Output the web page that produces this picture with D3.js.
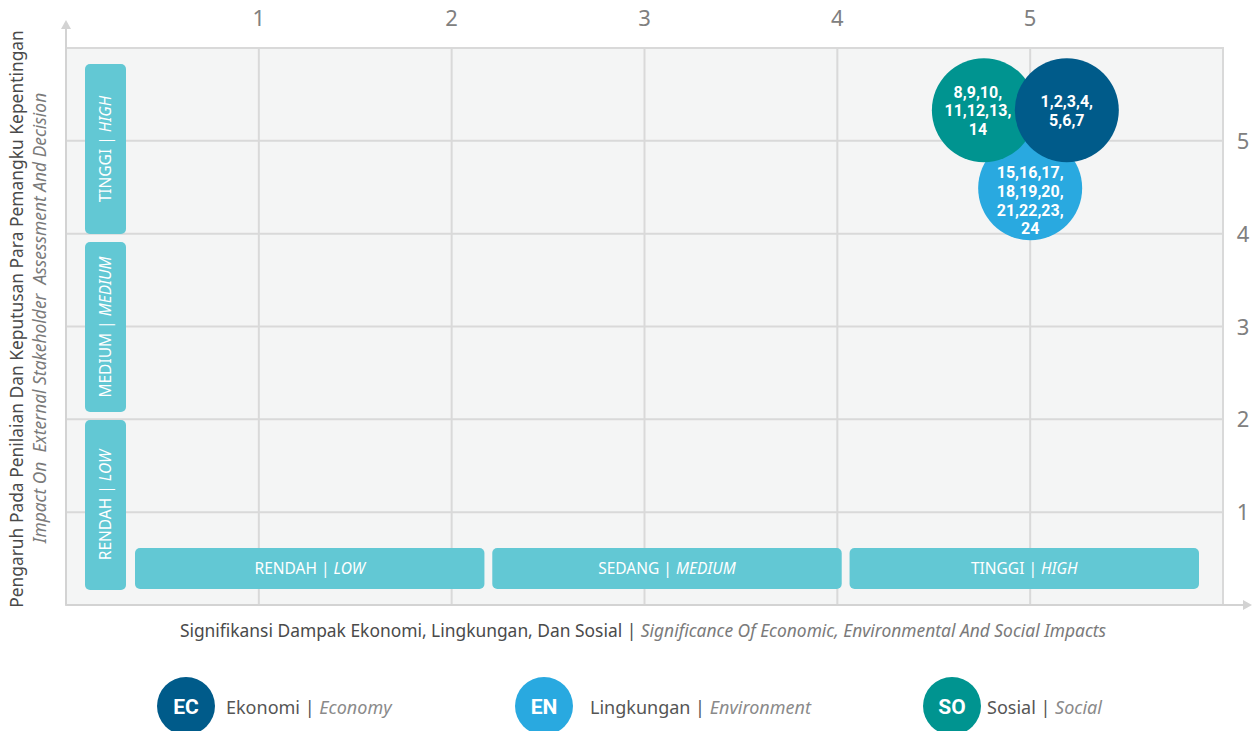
<!DOCTYPE html>
<html>
<head>
<meta charset="utf-8">
<script src="https://cdn.jsdelivr.net/npm/d3@7"></script>
<style>
  html, body { margin: 0; padding: 0; background: #fff; }
  svg { display: block; font-family: "Noto Sans", "Open Sans", sans-serif; }
</style>
</head>
<body>
<svg id="chart" width="1259" height="731"></svg>
<script>
"use strict";

// ── data ──────────────────────────────────────
const xTicks = [1, 2, 3, 4, 5];
const yTicks = [1, 2, 3, 4, 5];

const xLevels   = ["RENDAH", "SEDANG", "TINGGI"];
const xLevelsEn = ["LOW", "MEDIUM", "HIGH"];
const yLevels   = ["RENDAH", "MEDIUM", "TINGGI"];
const yLevelsEn = ["LOW", "MEDIUM", "HIGH"];

const groupCodes  = ["EC", "EN", "SO"];
const groupNames  = ["Ekonomi", "Lingkungan", "Sosial"];
const groupNamesEn = ["Economy", "Environment", "Social"];
const groupColors = ["#005b8a", "#29a9e0", "#009490"];

// bubble positions and topic numbers
const bubbleX = [5.19, 5.0, 4.76];
const bubbleY = [5.33, 4.49, 5.33];
const bubbleLines = [
  ["1,2,3,4,", "5,6,7"],
  ["15,16,17,", "18,19,20,", "21,22,23,", "24"],
  ["8,9,10,", "11,12,13,", "14"]
];
const drawOrder = [1, 2, 0]; // EN under SO under EC

const xTitle   = "Signifikansi Dampak Ekonomi, Lingkungan, Dan Sosial | ";
const xTitleEn = "Significance Of Economic, Environmental And Social Impacts";
const yTitle   = "Pengaruh Pada Penilaian Dan Keputusan Para Pemangku Kepentingan";
const yTitleEn = "Impact On  External Stakeholder  Assessment And Decision";

// ── layout ────────────────────────────────────
const plot = { left: 66, right: 1223, top: 48, bottom: 605 };
const GRID = "#d9d9d9";
const BAND = "#62c8d4";
const labelShiftX = [0, 0, -6];
const labelShiftY = [0, 12, 0]; // EN label pushed down, its top is covered
const legendCircleX = [186, 544, 952];
const legendTextX = [226, 590, 987];

const svg = d3.select("#chart");

const x = d3.scaleLinear().domain([0, 6]).range([plot.left, plot.right]);
const y = d3.scaleLinear().domain([0, 6]).range([plot.bottom, plot.top]);

// panel
svg.append("rect")
  .attr("x", plot.left).attr("y", plot.top)
  .attr("width", plot.right - plot.left).attr("height", plot.bottom - plot.top)
  .attr("fill", "#f4f5f5")
  .attr("stroke", GRID).attr("stroke-width", 2);

// grid
svg.append("g").selectAll("line").data(xTicks).join("line")
  .attr("x1", d => x(d)).attr("x2", d => x(d))
  .attr("y1", plot.top).attr("y2", plot.bottom)
  .attr("stroke", GRID).attr("stroke-width", 2);
svg.append("g").selectAll("line").data(yTicks).join("line")
  .attr("x1", plot.left).attr("x2", plot.right)
  .attr("y1", d => y(d)).attr("y2", d => y(d))
  .attr("stroke", GRID).attr("stroke-width", 2);

// axis lines with arrows
const AX = "#d3d3d3";
svg.append("line").attr("x1", plot.left).attr("x2", plot.left)
  .attr("y1", plot.bottom).attr("y2", 26).attr("stroke", AX).attr("stroke-width", 2);
svg.append("path").attr("d", `M${plot.left - 5},29 L${plot.left},20 L${plot.left + 5},29 Z`).attr("fill", AX);
svg.append("line").attr("x1", plot.left).attr("x2", 1246)
  .attr("y1", plot.bottom).attr("y2", plot.bottom).attr("stroke", AX).attr("stroke-width", 2);
svg.append("path").attr("d", `M1243,${plot.bottom - 5} L1252,${plot.bottom} L1243,${plot.bottom + 5} Z`).attr("fill", AX);

// tick labels
svg.append("g").selectAll("text").data(xTicks).join("text")
  .attr("x", d => x(d)).attr("y", 26)
  .attr("text-anchor", "middle")
  .attr("font-size", 22).attr("fill", "#808080")
  .text(d => d);
svg.append("g").selectAll("text").data(yTicks).join("text")
  .attr("x", 1243).attr("y", d => y(d) + 8)
  .attr("text-anchor", "middle")
  .attr("font-size", 22).attr("fill", "#808080")
  .text(d => d);

// category bands
const bx = d3.scaleBand().domain(xLevels).range([135, 1199]).paddingInner(0.022);
const by = d3.scaleBand().domain(yLevels.slice().reverse()).range([64, 590]).paddingInner(0.045);

const hb = svg.append("g").selectAll("g").data(xLevels).join("g");
hb.append("rect")
  .attr("x", d => bx(d)).attr("y", 548)
  .attr("width", bx.bandwidth()).attr("height", 41)
  .attr("rx", 5).attr("fill", BAND);
const ht = hb.append("text")
  .attr("x", d => bx(d) + bx.bandwidth() / 2).attr("y", 574)
  .attr("text-anchor", "middle").attr("font-size", 15.5).attr("fill", "#fff");
ht.append("tspan").text(d => d + " | ");
ht.append("tspan").attr("font-style", "italic").text((d, i) => xLevelsEn[i]);

const vb = svg.append("g").selectAll("g").data(yLevels).join("g");
vb.append("rect")
  .attr("x", 85).attr("y", d => by(d))
  .attr("width", 41).attr("height", by.bandwidth())
  .attr("rx", 5).attr("fill", BAND);
const vt = vb.append("text")
  .attr("transform", d => `translate(111,${by(d) + by.bandwidth() / 2}) rotate(-90)`)
  .attr("text-anchor", "middle").attr("font-size", 15.5).attr("fill", "#fff");
vt.append("tspan").text(d => d + " | ");
vt.append("tspan").attr("font-style", "italic").text((d, i) => yLevelsEn[i]);

// bubbles
const R = 52;
const bubbles = svg.append("g").selectAll("g").data(drawOrder).join("g")
  .attr("transform", i => `translate(${x(bubbleX[i])},${y(bubbleY[i])})`);
bubbles.append("circle").attr("r", R).attr("fill", i => groupColors[i]);
bubbles.each(function (i) {
  const lines = bubbleLines[i];
  const lh = 18.7;
  const t = d3.select(this).append("text")
    .attr("text-anchor", "middle")
    .attr("font-family", "Roboto, sans-serif")
    .attr("font-weight", "bold").attr("font-size", 16).attr("fill", "#fff");
  lines.forEach((s, k) => {
    t.append("tspan").attr("x", labelShiftX[i])
      .attr("y", (k - (lines.length - 1) / 2) * lh + 6 + labelShiftY[i])
      .text(s);
  });
});

// axis titles
const xt = svg.append("text")
  .attr("x", 643).attr("y", 637)
  .attr("text-anchor", "middle").attr("font-size", 17.4);
xt.append("tspan").attr("fill", "#4a4a4a").text(xTitle);
xt.append("tspan").attr("fill", "#7a7a7a").attr("font-style", "italic").text(xTitleEn);

svg.append("text")
  .attr("transform", "translate(23,319) rotate(-90)")
  .attr("text-anchor", "middle").attr("font-size", 17.4).attr("fill", "#4a4a4a")
  .text(yTitle);
svg.append("text")
  .attr("transform", "translate(46,318) rotate(-90)")
  .attr("text-anchor", "middle").attr("font-size", 17.4).attr("fill", "#7a7a7a")
  .attr("font-style", "italic")
  .style("white-space", "pre")
  .text(yTitleEn);

// legend
const lg = svg.append("g").selectAll("g").data(groupCodes).join("g");
lg.append("circle")
  .attr("cx", (d, i) => legendCircleX[i]).attr("cy", 706)
  .attr("r", 29).attr("fill", (d, i) => groupColors[i]);
lg.append("text")
  .attr("x", (d, i) => legendCircleX[i]).attr("y", 713.5)
  .attr("text-anchor", "middle")
  .attr("font-family", "Roboto, sans-serif")
  .attr("font-weight", "bold").attr("font-size", 21).attr("fill", "#fff")
  .text(d => d);
const lt = lg.append("text")
  .attr("x", (d, i) => legendTextX[i]).attr("y", 714).attr("font-size", 18);
lt.append("tspan").attr("fill", "#555").text((d, i) => groupNames[i] + " | ");
lt.append("tspan").attr("fill", "#8a8a8a").attr("font-style", "italic").text((d, i) => groupNamesEn[i]);
</script>
</body>
</html>
